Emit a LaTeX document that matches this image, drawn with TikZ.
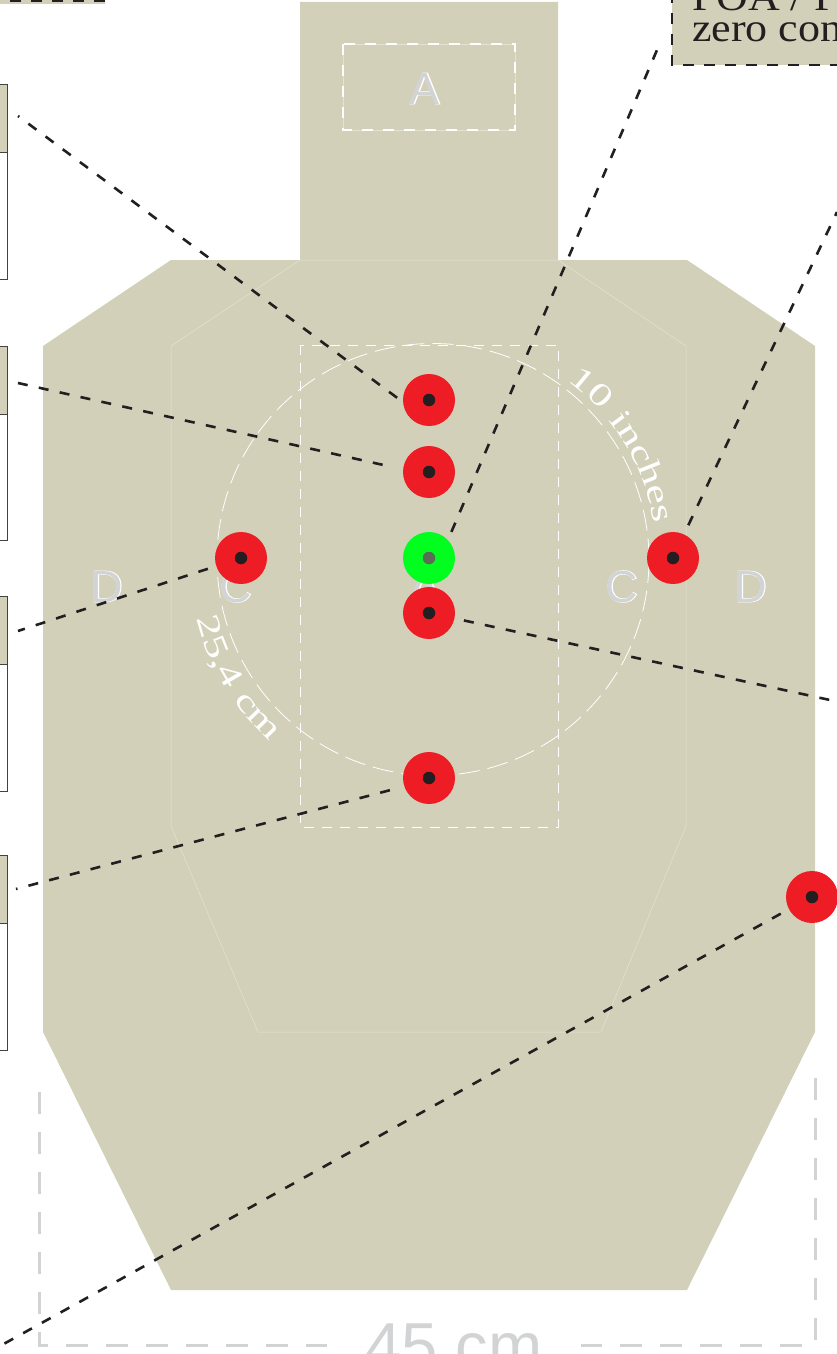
\documentclass[tikz,border=0pt]{standalone}
\usepackage{fontspec}
\usetikzlibrary{decorations.text}
\setmainfont{Liberation Serif}
\newfontfamily\boxfont[FakeStretch=1.1]{Liberation Serif}
\newfontfamily\arcfont[FakeStretch=1.4,LetterSpace=3.5]{Liberation Serif}
\newfontfamily\labelfont{Liberation Sans}
\newfontfamily\labelfontbold[FakeBold=2]{Liberation Sans}
\definecolor{tan}{HTML}{D3D0B9}
\definecolor{ink}{HTML}{231F20}
\definecolor{dimgrey}{HTML}{D1D3D4}
\definecolor{hitred}{HTML}{EE1C25}
\definecolor{hitgreen}{HTML}{00FF1E}
\definecolor{greencore}{HTML}{5C6B58}
\definecolor{softline}{HTML}{E4E2D3}
\tikzset{
  leader/.style={draw=ink,line width=2.6pt,dash pattern=on 10pt off 11.4pt},
  dimline/.style={draw=dimgrey,line width=3pt,dash pattern=on 22pt off 18pt},
  hitdot/.style={circle,fill=#1,minimum size=52pt,inner sep=0pt,outer sep=6pt},
  hitcore/.style={circle,fill=#1,minimum size=12.5pt,inner sep=0pt},
  sideframe/.style={draw=ink!85,line width=0.8pt},
  zonelabel/.style={anchor=base,inner sep=0pt,outer sep=0pt},
  boxtext/.style={anchor=base west,inner sep=0pt,outer sep=0pt,text=ink,font=\boxfont\fontsize{40}{40}\selectfont}
}
\newcommand{\zoneletter}[1]{\fontsize{45}{45}\selectfont\rlap{\labelfontbold\textcolor{white}{#1}}\labelfont\textcolor{dimgrey}{#1}}
\begin{document}
\begin{tikzpicture}[x=1pt,y=1pt]
\useasboundingbox (0,0) rectangle (837,-1354);
\clip (0,0) rectangle (837,-1354);
% target outline
\fill[tan] (300,-2) -- (558,-2) -- (558,-260) -- (687,-260) -- (815,-346) -- (815,-1032) -- (687,-1290) -- (171,-1290) -- (43,-1032) -- (43,-346) -- (171,-260) -- (300,-260) -- cycle;
\draw[softline,line width=0.5pt] (300,-260) -- (171,-346) -- (171,-826) -- (258,-1032) -- (601,-1032) -- (686,-826) -- (686,-346) -- (558,-260) -- cycle;
% zone A box
\draw[softline,line width=0.5pt] (343,-44) rectangle (515,-130);
\draw[white,line width=2.4pt,dash pattern=on 11pt off 10pt] (343,-44) rectangle (515,-130);
% zone B box and circle
\draw[white,line width=1pt,dash pattern=on 10pt off 8pt] (300,-345) rectangle (558,-827);
\draw[white,line width=0.8pt,dash pattern=on 21pt off 8pt] (433,-559.5) circle (216);
% zone letters
\node[zonelabel] (la) at (425,-104) {\zoneletter{A}};
\node[zonelabel] (la2) at (425,-602) {\zoneletter{A}};
\node[zonelabel] (lc1) at (236,-602) {\zoneletter{C}};
\node[zonelabel] (lc2) at (622,-602) {\zoneletter{C}};
\node[zonelabel] (ld1) at (107,-602) {\zoneletter{D}};
\node[zonelabel] (ld2) at (751,-602) {\zoneletter{D}};
% curved measures
\path[decorate,decoration={text along path,text={|\arcfont\fontsize{32}{32}\selectfont\color{white}|10 inches}}]
  (433,-559.5) ++(53:224) arc[start angle=53,end angle=-5,radius=224];
\path[decorate,decoration={text along path,text={|\arcfont\fontsize{32}{32}\selectfont\color{white}|25,4 cm}}]
  (433,-559.5) ++(194:244) arc[start angle=194,end angle=255,radius=244];
% dimension
\draw[dimline] (39,-1092) -- (39,-1345) -- (327,-1345);
\draw[dimline] (815,-1078) -- (815,-1345) -- (581,-1345);
\node[anchor=base,inner sep=0pt,text=dimgrey,font=\labelfont\fontsize{65}{65}\selectfont] (width) at (454,-1368) {45 cm};
% side panels
\foreach \t/\m/\b in {84/152/279,346/414/540,596/664/791,855/923/1050}{
  \fill[tan] (-2,-\t) rectangle (7.5,-\m);
  \fill[white] (-2,-\m) rectangle (7.5,-\b);
  \draw[sideframe] (-2,-\t) -- (7.5,-\t) -- (7.5,-\b) -- (-2,-\b);
  \draw[sideframe] (-2,-\m) -- (7.5,-\m);
}
\fill[tan] (-2,-4) rectangle (105,1);
\draw[draw=ink,line width=2.4pt,dash pattern=on 11pt off 10pt] (105,-1) -- (-2,-1);
\fill[tan] (672,8) rectangle (845,-65);
\draw[draw=ink,line width=2.4pt,dash pattern=on 11pt off 10pt] (672,8) -- (672,-65) -- (845,-65);
\node[boxtext] (poa) at (692,-11) {POA / PO};
\node[boxtext] (zero) at (692,-42) {zero con};
% hit dots
\foreach \n/\x/\y in {d1/429/400,d2/429/472,d3/241/558,d5/673/558,d6/429/613,d7/429/778,d8/812/897}{
  \node[hitdot=hitred] (\n) at (\x,-\y) {};
  \node[hitcore=ink] (\n c) at (\x,-\y) {};
}
\node[hitdot=hitgreen] (d4) at (429,-558) {};
\node[hitcore=greencore] (d4c) at (429,-558) {};
% free ends
\coordinate (s1) at (18,-116);
\coordinate (s2) at (18,-383);
\coordinate (s3) at (18,-631);
\coordinate (s4) at (657,-50);
\coordinate (s5) at (837,-212);
\coordinate (s6) at (830,-700);
\coordinate (s7) at (16,-889);
\coordinate (s8) at (0,-1346);
% leaders
\draw[leader] (d1.176.4) -- (s1);
\draw[leader,shorten <=15pt] (d2.173.9) -- (s2);
\draw[leader,shorten <=2.8pt] (d3.198.4) -- (s3);
\draw[leader,shorten <=2.5pt] (d4.48.9) -- (s4);
\draw[leader,shorten <=4.2pt] (d5.65.6) -- (s5);
\draw[leader,shorten <=3.7pt] (d6.348.7) -- (s6);
\draw[leader,shorten <=9pt] (d7.198.4) -- (s7);
\draw[leader,shorten <=3.4pt] (d8.208.7) -- (s8);
\end{tikzpicture}
\end{document}
